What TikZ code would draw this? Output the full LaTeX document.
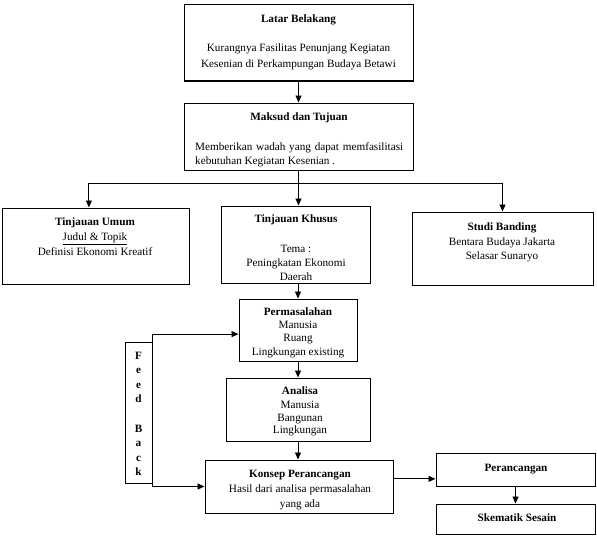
\documentclass[tikz,border=0pt]{standalone}
\usepackage{fontspec}
\setmainfont{Liberation Serif}
\usetikzlibrary{arrows.meta,calc}
\begin{document}
\begin{tikzpicture}[x=1pt,y=-1pt,
 box/.style={draw,line width=1pt,inner sep=0pt,rectangle},
 txt/.style={inner sep=0pt,anchor=base,font=\fontsize{11.2}{13.5}\selectfont},
 ttl/.style={inner sep=0pt,anchor=base,font=\fontsize{11.2}{13.5}\selectfont\bfseries},
 arr/.style={line width=0.9pt,-{Triangle[length=7pt,width=6pt]}},
 ln/.style={line width=0.9pt}]
\useasboundingbox (0,0) rectangle (597,551);
% boxes
\node[box,minimum width=229pt,minimum height=76pt] (lb) at (298.5,43) {};
\node[box,minimum width=229pt,minimum height=67pt] (mt) at (298.5,136.5) {};
\node[box,minimum width=187pt,minimum height=76pt] (tu) at (95.5,246) {};
\node[box,minimum width=149pt,minimum height=77pt] (tk) at (295.5,244.5) {};
\node[box,minimum width=181pt,minimum height=73pt] (sb) at (502.5,248.5) {};
\node[box,minimum width=118pt,minimum height=62pt] (pm) at (298,330) {};
\node[box,minimum width=144pt,minimum height=63pt] (an) at (298,409.5) {};
\node[box,minimum width=27pt,minimum height=141pt] (fb) at (138.5,412.5) {};
\node[box,minimum width=188pt,minimum height=53pt] (ko) at (299,486.5) {};
\node[box,minimum width=159pt,minimum height=33pt] (pr) at (515.5,469.5) {};
\node[box,minimum width=159pt,minimum height=30pt] (sk) at (515.5,519) {};
% texts
\node[ttl] (lbt) at (298.5,23) {Latar Belakang};
\node[txt] (lb1) at (298.5,51.5) {Kurangnya Fasilitas Penunjang Kegiatan};
\node[txt] (lb2) at (298.5,67) {Kesenian di Perkampungan Budaya Betawi};
\node[ttl] (mtt) at (299,121) {Maksud dan Tujuan};
\node[txt,anchor=base west] (mt1) at (195,150) {\makebox[208pt][s]{Memberikan wadah yang dapat memfasilitasi}};
\node[txt,anchor=base west] (mt2) at (195,164) {kebutuhan Kegiatan Kesenian .};
\node[ttl] (tut) at (95,225) {Tinjauan Umum};
\node[txt] (tu1) at (95,240) {\underline{Judul \& Topik}};
\node[txt] (tu2) at (95,255) {Definisi Ekonomi Kreatif};
\node[ttl] (tkt) at (296,222) {Tinjauan Khusus};
\node[txt] (tk1) at (296,252) {Tema :};
\node[txt] (tk2) at (296,266) {Peningkatan Ekonomi};
\node[txt] (tk3) at (296,280) {Daerah};
\node[ttl] (sbt) at (502,230) {Studi Banding};
\node[txt] (sb1) at (502,245) {Bentara Budaya Jakarta};
\node[txt] (sb2) at (502,259) {Selasar Sunaryo};
\node[ttl] (pmt) at (298,315.5) {Permasalahan};
\node[txt] (pm1) at (298,328) {Manusia};
\node[txt] (pm2) at (298,341.5) {Ruang};
\node[txt] (pm3) at (298,355) {Lingkungan existing};
\node[ttl] (ant) at (300,394) {Analisa};
\node[txt] (an1) at (300,408) {Manusia};
\node[txt] (an2) at (300,421) {Bangunan};
\node[txt] (an3) at (300,433) {Lingkungan};
\node[ttl] (kot) at (300,477) {Konsep Perancangan};
\node[txt] (ko1) at (300,492) {Hasil dari analisa permasalahan};
\node[txt] (ko2) at (300,507) {yang ada};
\node[ttl] (prt) at (516,471) {Perancangan};
\node[ttl] (skt) at (517,521) {Skematik Sesain};
\foreach \ch/\yy [count=\i] in {F/359,e/373.6,e/388.2,d/402.8,B/432,a/446.6,c/461.2,k/475.8}
  \node[ttl] (fb\i) at (138.5,\yy) {\ch};
% connectors
\draw[arr] (lb.south) -- (mt.north);
\coordinate (jn) at ($(mt.south)+(0,13)$);
\draw[ln] (mt.south) -- (jn);
\coordinate (tuin) at ($(tu.north west)!0.465!(tu.north east)$);
\draw[arr] (jn) -| (tuin);
\draw[arr] (jn) -| (sb.north);
\draw[arr] (jn) -- (jn |- tk.north);
\draw[arr] (tk.south -| pm.north) -- (pm.north);
\draw[arr] (pm.south) -- (pm.south |- an.north);
\draw[arr] (an.south) -- (an.south |- ko.north);
\coordinate (pin) at ($(pm.north west)!0.565!(pm.south west)$);
\draw[arr] (fb.north east) |- (pin);
\draw[arr] (fb.south east) |- (ko.west);
\coordinate (kout) at ($(ko.north east)!0.358!(ko.south east)$);
\draw[arr] (kout) -- (kout -| pr.west);
\draw[arr] (pr.south) -- (sk.north);
\end{tikzpicture}
\end{document}
